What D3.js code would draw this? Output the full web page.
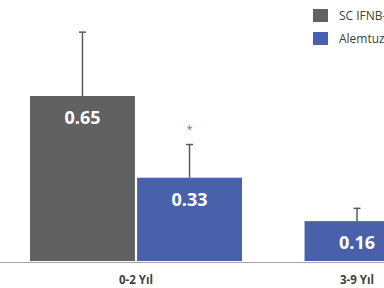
<!DOCTYPE html>
<html>
<head>
<meta charset="utf-8">
<script src="https://cdn.jsdelivr.net/npm/d3@7"></script>
<style>
  html, body { margin: 0; padding: 0; background: #fff; overflow: hidden; }
  svg { display: block; font-family: "Open Sans", "Noto Sans", sans-serif; }
</style>
</head>
<body>
<div id="chart"></div>
<script>
// chart values
const categories = ['0-2 Yıl', '3-9 Yıl'];
const seriesNames = ['SC IFNB-1a', 'Alemtuzumab'];
const scIfnbValues = [0.65, null];
const alemValues = [0.33, 0.16];
const scIfnbErr = [0.25, null];
const alemErr = [0.13, 0.05];
const significance = ['*', ''];

const width = 384, height = 288;
const colors = { 'SC IFNB-1a': '#616161', 'Alemtuzumab': '#4960ab' };

const svg = d3.select('#chart').append('svg')
  .attr('width', width)
  .attr('height', height);

// outer scale for the groups, inner one for the bars in a group
const x = d3.scaleBand().domain(categories).range([25.5, 467.5]).padding(0);
const xInner = d3.scaleBand().domain(seriesNames).range([-106, 106]).paddingInner(0.02);
const y = d3.scaleLinear().domain([0, 1]).range([262, 6.6]);

const rows = [];
categories.forEach((cat, i) => {
  const items = [
    { series: seriesNames[0], value: scIfnbValues[i], err: scIfnbErr[i] },
    { series: seriesNames[1], value: alemValues[i], err: alemErr[i] }
  ].filter(d => d.value != null);
  const center = x(cat) + x.bandwidth() / 2;
  items.forEach(d => {
    // a lone bar sits in the middle of its group
    const left = items.length === 1
      ? center - xInner.bandwidth() / 2
      : center + xInner(d.series);
    rows.push({ ...d, cat, idx: i, left, sig: d.series === seriesNames[1] ? significance[i] : '' });
  });
});

// baseline
svg.append('line')
  .attr('x1', 0).attr('x2', width)
  .attr('y1', y(0) + 0.5).attr('y2', y(0) + 0.5)
  .attr('stroke', '#a6a6a6').attr('stroke-width', 1);

// error whiskers (upper part only shows)
const err = svg.append('g').attr('stroke', '#5b5b5b').attr('stroke-width', 1.5);
rows.forEach(d => {
  const cx = d.left + xInner.bandwidth() / 2;
  err.append('line')
    .attr('x1', cx).attr('x2', cx)
    .attr('y1', y(d.value)).attr('y2', y(d.value + d.err));
  err.append('line')
    .attr('x1', cx - 3.5).attr('x2', cx + 3.5)
    .attr('y1', y(d.value + d.err)).attr('y2', y(d.value + d.err));
});

// bars
svg.append('g').selectAll('rect')
  .data(rows)
  .enter()
  .append('rect')
  .attr('x', d => d.left)
  .attr('y', d => y(d.value))
  .attr('width', xInner.bandwidth())
  .attr('height', d => y(0) - y(d.value) - 1)
  .attr('fill', d => colors[d.series]);

// value labels
svg.append('g').selectAll('text')
  .data(rows)
  .enter()
  .append('text')
  .attr('x', d => d.left + xInner.bandwidth() / 2)
  .attr('y', d => y(d.value) + 28)
  .attr('text-anchor', 'middle')
  .attr('fill', '#fff')
  .style('font-size', '18px')
  .style('font-weight', 'bold')
  .text(d => d.value.toFixed(2));

// significance marks
svg.append('g').selectAll('text')
  .data(rows.filter(d => d.sig))
  .enter()
  .append('text')
  .attr('x', d => d.left + xInner.bandwidth() / 2)
  .attr('y', d => y(d.value + d.err) - 12)
  .attr('text-anchor', 'middle')
  .attr('fill', '#7a7a7a')
  .style('font-size', '11px')
  .text(d => d.sig);

// category labels
svg.append('g').selectAll('text')
  .data(categories)
  .enter()
  .append('text')
  .attr('x', d => x(d) + x.bandwidth() / 2)
  .attr('y', 284)
  .attr('text-anchor', 'middle')
  .attr('fill', '#404040')
  .style('font-size', '11.5px')
  .style('font-weight', 'bold')
  .text(d => d);

// legend
const legend = svg.append('g').attr('transform', 'translate(313,9)');
seriesNames.forEach((name, i) => {
  const g = legend.append('g').attr('transform', `translate(0,${i * 23})`);
  g.append('rect').attr('width', 15).attr('height', 13).attr('fill', colors[name]);
  g.append('text')
    .attr('x', 26).attr('y', 11)
    .attr('fill', '#404040')
    .style('font-size', '12px')
    .text(name);
});
</script>
</body>
</html>
